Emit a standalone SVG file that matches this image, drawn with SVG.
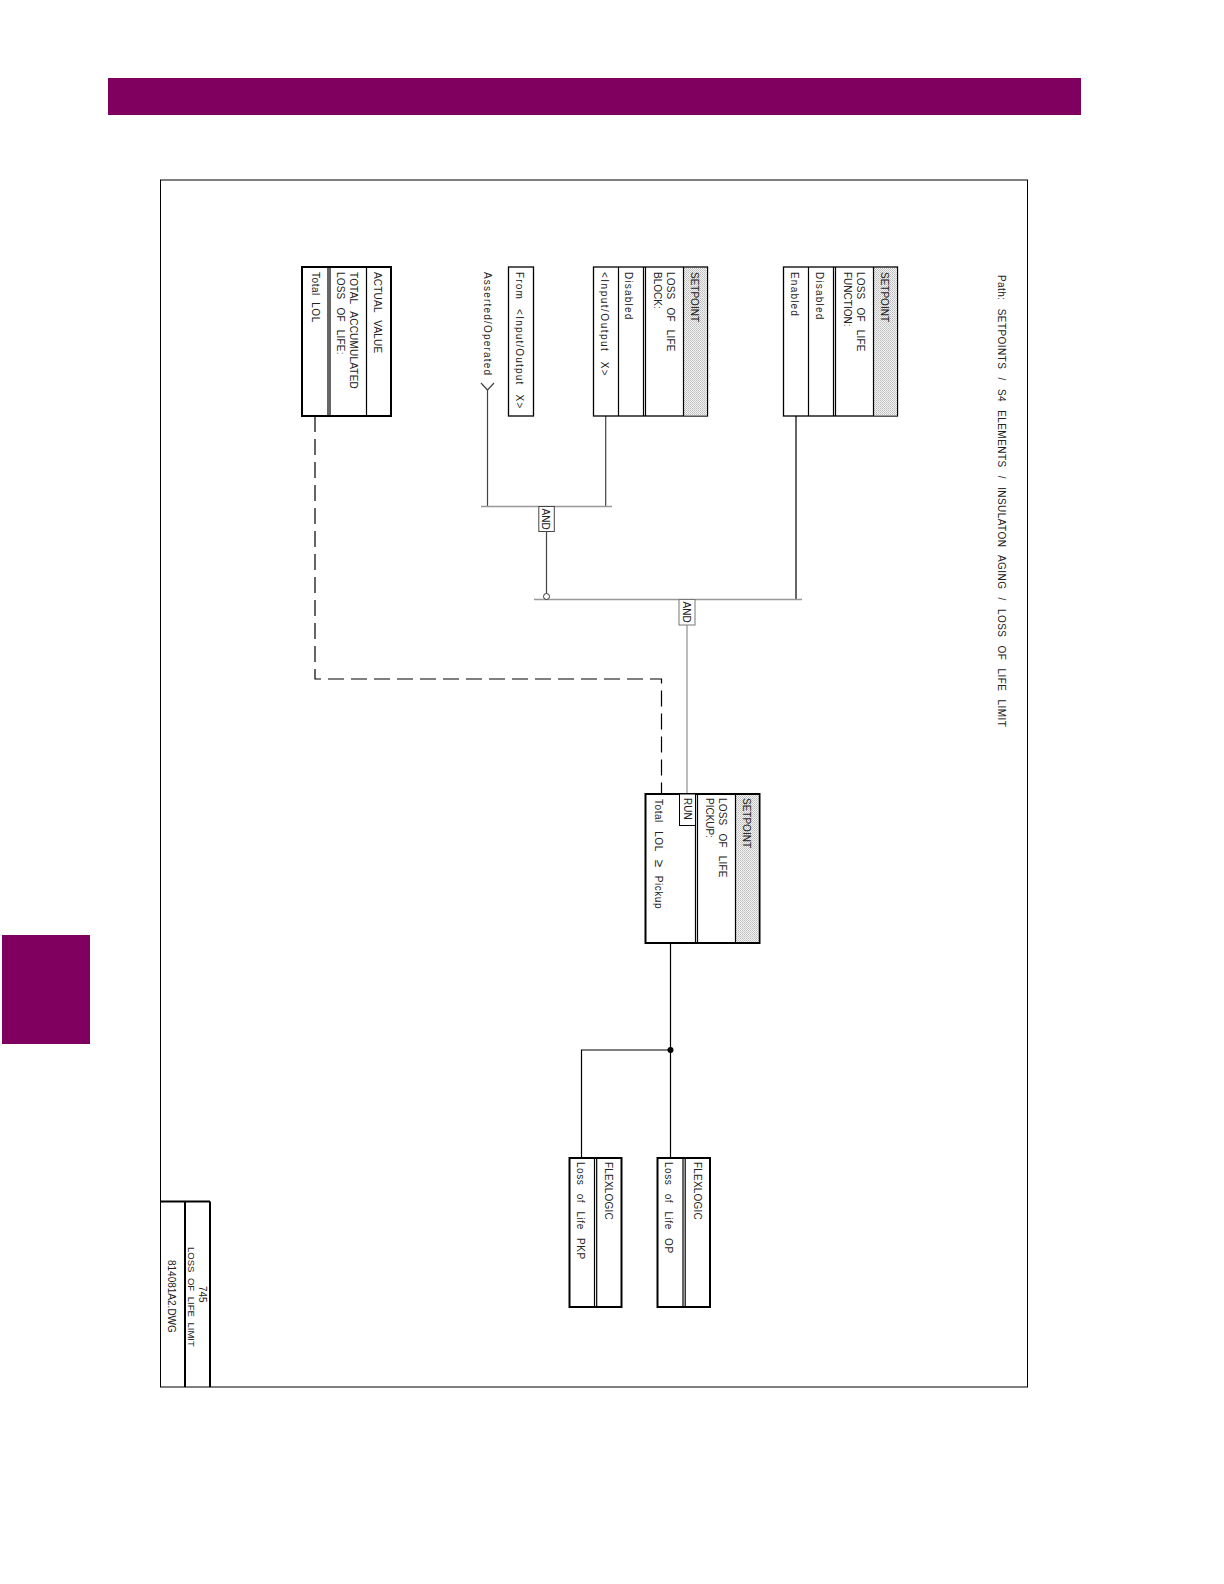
<svg xmlns="http://www.w3.org/2000/svg" width="1224" height="1584" viewBox="0 0 1224 1584">
<style>
text{font-family:"Liberation Sans",Arial,sans-serif;font-size:10px;word-spacing:5px;fill:#222}
.w{letter-spacing:1.2px}
.v{letter-spacing:.55px}
.u{letter-spacing:.2px}
.b{fill:#fff;stroke:#000;stroke-width:1.3}
.t{fill:#fff;stroke:#000;stroke-width:2}
.l{fill:none;stroke:#000;stroke-width:1.2}
.g{fill:none;stroke:#999;stroke-width:1.3}
.m{fill:none;stroke:#444;stroke-width:1.2}
.d{fill:none;stroke:#000;stroke-width:1.2;stroke-dasharray:16 7}
.s{fill:url(#dots)}
</style>
<defs><pattern id="dots" width="2" height="2" patternUnits="userSpaceOnUse"><rect width="2" height="2" fill="#f4f4f4"/><rect width="1" height="1" fill="#bbb"/><rect x="1" y="1" width="1" height="1" fill="#ccc"/></pattern></defs>
<rect x="108" y="78" width="973" height="37" fill="#800060"/>
<rect x="2" y="935" width="88" height="109" fill="#800060"/>
<rect x="160.500" y="180" width="867" height="1207" fill="none" stroke="#000" stroke-width="1"/>
<g id="title">
<path d="M160 1201.500H210M185 1201.500V1387M210 1201.500V1387" fill="none" stroke="#000" stroke-width="2"/>
<text transform="translate(199,1286) rotate(90)">745</text>
<text style="word-spacing:3px;font-size:9.500px" transform="translate(188,1247) rotate(90)">LOSS OF LIFE LIMIT</text>
<text transform="translate(168,1260) rotate(90)">814081A2.DWG</text>
</g>
<text id="path" style="letter-spacing:.43px" transform="translate(998,275) rotate(90)">Path: SETPOINTS / S4 ELEMENTS / INSULATON AGING / LOSS OF LIFE LIMIT</text>
<g id="connectors">
<path class="l" d="M796 416V599.500"/>
<path class="m" d="M605.700 416V506.500M487.500 389V506.500M546.500 531.500V593.500"/>
<path class="m" d="M481 383L487.500 390L494 383"/>
<path class="g" d="M481 506.500H612M534 599.500H802M687 625V794"/>
<circle cx="546.500" cy="596.500" r="3" fill="#fff" stroke="#333" stroke-width="1"/>
<path class="d" d="M315 416V679H661.500V794"/>
<path class="l" d="M670.500 943V1158M670.500 1050H581.500V1158"/>
<circle cx="670.500" cy="1050" r="3" fill="#000"/>
</g>
<g id="n-function">
<rect class="b" x="783.500" y="267" width="114" height="149"/>
<rect class="s" x="873.500" y="268" width="23.500" height="147.500"/>
<path class="l" d="M808.500 267V416M833.500 267V416M835.500 267V416M873.500 267V416"/>
<text transform="translate(881,272) rotate(90)">SETPOINT</text>
<text class="u" transform="translate(857,272) rotate(90)">LOSS OF LIFE</text>
<text transform="translate(844,272) rotate(90)">FUNCTION:</text>
<text class="w" transform="translate(816,272) rotate(90)">Disabled</text>
<text class="w" transform="translate(791,272) rotate(90)">Enabled</text>
</g>
<g id="n-block">
<rect class="b" x="593.500" y="267" width="114" height="149"/>
<rect class="s" x="683.500" y="268" width="23.500" height="147.500"/>
<path class="l" d="M618.500 267V416M643.500 267V416M645.500 267V416M683.500 267V416"/>
<text transform="translate(691,272) rotate(90)">SETPOINT</text>
<text class="u" transform="translate(667,272) rotate(90)">LOSS OF LIFE</text>
<text transform="translate(654,272) rotate(90)">BLOCK:</text>
<text class="w" transform="translate(625,272) rotate(90)">Disabled</text>
<text style="letter-spacing:1.5px" transform="translate(601,272) rotate(90)">&lt;Input/Output X&gt;</text>
</g>
<g id="n-from">
<rect class="b" x="508.500" y="267" width="25" height="149"/>
<text class="w" transform="translate(516,272) rotate(90)">From &lt;Input/Output X&gt;</text>
</g>
<text id="asserted" class="w" transform="translate(484,272) rotate(90)">Asserted/Operated</text>
<g id="n-actual">
<rect class="t" x="302" y="267" width="89" height="149"/>
<path class="l" d="M328 267V416M330 267V416M366.500 267V416"/>
<text class="u" transform="translate(374,272) rotate(90)">ACTUAL VALUE</text>
<text class="u" transform="translate(350,272) rotate(90)">TOTAL ACCUMULATED</text>
<text class="u" transform="translate(337,272) rotate(90)">LOSS OF LIFE:</text>
<text style="word-spacing:3px" class="v" transform="translate(312,272) rotate(90)">Total LOL</text>
</g>
<g id="n-and1">
<rect x="538.800" y="506.500" width="15.500" height="25" fill="#fff" stroke="#444" stroke-width="1"/>
<text transform="translate(542,508.500) rotate(90)">AND</text>
</g>
<g id="n-and2">
<rect x="679" y="599.500" width="16" height="25.500" fill="#fff" stroke="#777" stroke-width="1"/>
<text transform="translate(682.500,601.500) rotate(90)">AND</text>
</g>
<g id="n-pickup">
<rect class="t" x="645.500" y="794" width="114" height="149"/>
<rect class="s" x="736" y="795" width="22.500" height="147"/>
<path class="l" d="M695.500 794V943M697.500 794V943M735.500 794V943"/>
<rect x="679.500" y="794" width="16" height="31.500" fill="#fff" stroke="#000" stroke-width="1"/>
<text transform="translate(683.500,798) rotate(90)">RUN</text>
<text transform="translate(742.500,798) rotate(90)">SETPOINT</text>
<text class="u" transform="translate(718.500,798) rotate(90)">LOSS OF LIFE</text>
<text transform="translate(706,798) rotate(90)">PICKUP:</text>
<text class="v" transform="translate(655,799) rotate(90)">Total LOL <tspan style="font-size:13px">≥</tspan> Pickup</text>
</g>
<g id="n-op">
<rect class="t" x="657.500" y="1158" width="52.500" height="149"/>
<path class="l" d="M683 1158V1307M685.200 1158V1307"/>
<text class="u" transform="translate(693.500,1162) rotate(90)">FLEXLOGIC</text>
<text class="v" transform="translate(665,1162) rotate(90)">Loss of Life OP</text>
</g>
<g id="n-pkp">
<rect class="t" x="569.500" y="1158" width="52" height="149"/>
<path class="l" d="M594.500 1158V1307M596.700 1158V1307"/>
<text class="u" transform="translate(604.500,1162) rotate(90)">FLEXLOGIC</text>
<text class="v" transform="translate(577,1162) rotate(90)">Loss of Life PKP</text>
</g>
</svg>
